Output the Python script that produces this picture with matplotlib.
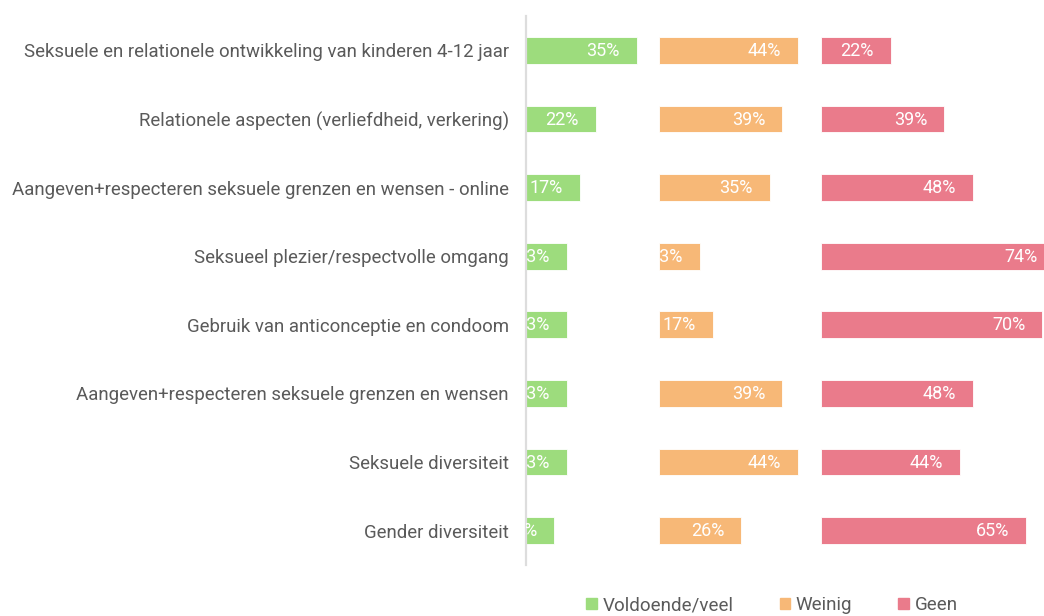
import matplotlib.pyplot as plt
from matplotlib.patches import Patch
from matplotlib.transforms import ScaledTranslation

plt.rcParams['font.family'] = ['Roboto', 'DejaVu Sans']

categories = [
    "Seksuele en relationele ontwikkeling van kinderen 4-12 jaar",
    "Relationele aspecten (verliefdheid, verkering)",
    "Aangeven+respecteren seksuele grenzen en wensen - online",
    "Seksueel plezier/respectvolle omgang",
    "Gebruik van anticonceptie en condoom",
    "Aangeven+respecteren seksuele grenzen en wensen",
    "Seksuele diversiteit",
    "Gender diversiteit",
]
series = ["Voldoende/veel", "Weinig", "Geen"]
voldoende = [35, 22, 17, 13, 13, 13, 13, 9]
weinig = [44, 39, 35, 13, 17, 39, 44, 26]
geen = [22, 39, 48, 74, 70, 48, 44, 65]
colors = ["#9ddc7d", "#f7b877", "#ea7b8b"]

W, H = 1044, 616
fig = plt.figure(figsize=(W / 100, H / 100), dpi=100)

px_per_pct = 3.16
top, bottom = 16, 565
# panel left edge and width in pixels
panels = [(526, 133), (659, 162), (821, 240)]

axes = []
for (left, width), vals, col in zip(panels, [voldoende, weinig, geen], colors):
    ax = fig.add_axes([left / W, 1 - bottom / H, width / W, (bottom - top) / H])
    ypos = range(len(categories))
    ax.barh(ypos, vals, height=0.39, color=col, edgecolor='white', linewidth=0.6)
    ax.set_xlim(0, width / px_per_pct)
    ax.set_ylim(len(categories) - 0.5, -0.5)
    off = ax.transData + ScaledTranslation(-17 / 100, 0, fig.dpi_scale_trans)
    for i, v in enumerate(vals):
        ax.text(v, i + 0.01, f"{v}%", transform=off, ha='right', va='center',
                color='white', fontsize=13, clip_on=True)
    for s in ax.spines.values():
        s.set_visible(False)
    ax.set_xticks([])
    ax.set_yticks([])
    axes.append(ax)

ax = axes[0]
ax.set_yticks(range(len(categories)))
ax.set_yticklabels(categories, fontsize=13.4, color='#5a5a5a')
ax.tick_params(axis='y', length=0, pad=12.5)
ax.spines['left'].set_visible(True)
ax.spines['left'].set_color('#dddddd')
ax.spines['left'].set_linewidth(1.6)

handles = [Patch(color=c, label=s) for c, s in zip(colors, series)]
fig.legend(handles=handles, loc='center', bbox_to_anchor=(772 / W, 1 - 605 / H),
           ncol=3, frameon=False, fontsize=13.5, handlelength=0.55, handleheight=0.55,
           handletextpad=0.32, columnspacing=2.45, labelcolor='#5a5a5a',
           borderpad=0)

plt.savefig('out.png', dpi=100)
